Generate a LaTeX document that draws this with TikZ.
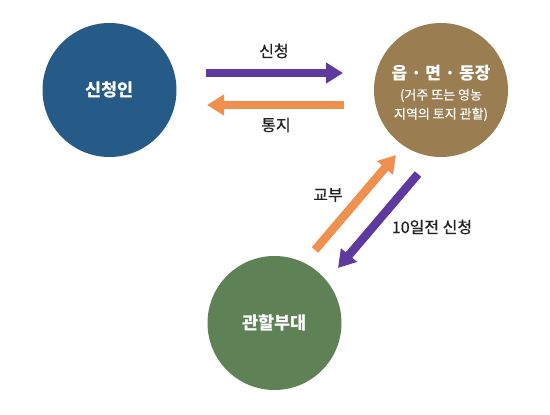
\documentclass[tikz,border=0pt]{standalone}
\usepackage{fontspec}
\newfontfamily\kr{Noto Sans CJK KR}
\newfontfamily\krm{Noto Sans CJK KR}[FakeBold=0.7]
\usetikzlibrary{arrows.meta}
\definecolor{cblue}{HTML}{265A87}
\definecolor{cbrown}{HTML}{9A7E52}
\definecolor{cgreen}{HTML}{5E8155}
\definecolor{cpurple}{HTML}{5E3A9E}
\definecolor{corange}{HTML}{F0904F}
\definecolor{ctext}{HTML}{222222}
\tikzset{
  disc/.style={circle, minimum size=134pt, inner sep=0pt, text=white, font=\kr\fontsize{17.5}{20}\selectfont\bfseries, align=center},
  bigarrow/.style={line width=8.5pt, -{Triangle[width=20pt,length=17pt]}},
  lbl/.style={text=ctext, font=\krm\fontsize{16}{18}\selectfont}
}
\begin{document}
\begin{tikzpicture}[x=1pt,y=-1pt]
\useasboundingbox (0,0) rectangle (550,415);
\node[disc, fill=cblue] (app) at (109.5,90) {신청인};
\node[disc, fill=cbrown] (office) at (441,90) {};
\node[disc, fill=cgreen] (unit) at (274.5,323) {관할부대};
\node[text=white, font=\kr\fontsize{17}{19}\selectfont\bfseries] (t1) at (441,73) {읍 · 면 · 동장};
\node[text=white, font=\krm\fontsize{13}{19}\selectfont, align=center] (t2) at (441,105) {(거주 또는 영농\\지역의 토지 관할)};
\coordinate (p1) at (206,73);
\coordinate (p2) at (343,73);
\coordinate (o1) at (344,105);
\coordinate (o2) at (207,105);
\coordinate (d1) at (315,250);
\coordinate (d2) at (396,155);
\coordinate (e1) at (418,174);
\coordinate (e2) at (338,268);
\draw[bigarrow, draw=cpurple, fill=cpurple] (p1) -- (p2);
\draw[bigarrow, draw=corange, fill=corange] (o1) -- (o2);
\draw[bigarrow, draw=corange, fill=corange] (d1) -- (d2);
\draw[bigarrow, draw=cpurple, fill=cpurple] (e1) -- (e2);
\node[lbl] (l1) at (274,51) {신청};
\node[lbl] (l2) at (276,125) {통지};
\node[lbl] (l3) at (328,195) {교부};
\node[lbl] (l4) at (432,227) {10일전 신청};
\end{tikzpicture}
\end{document}
